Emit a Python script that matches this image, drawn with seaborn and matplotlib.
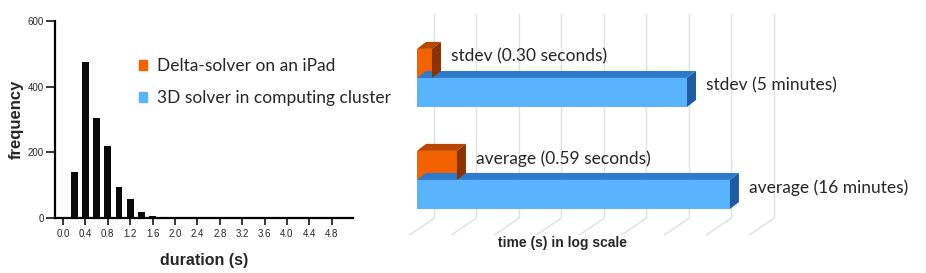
import matplotlib
matplotlib.use("Agg")
import matplotlib.pyplot as plt
from matplotlib.patches import Polygon, Patch
from matplotlib.lines import Line2D
import seaborn as sns
import pandas as pd
import numpy as np

# duration histogram (bin centres in seconds, counts)
bin_centers = [0.0, 0.2, 0.4, 0.6, 0.8, 1.0, 1.2, 1.4, 1.6, 1.8, 2.0, 2.2]
counts = [2, 140, 476, 305, 218, 95, 57, 18, 6, 2, 1, 1]

# timing comparison
stat_names = ["stdev", "average"]
solvers = ["Delta-solver on an iPad", "3D solver in computing cluster"]
ipad_seconds = [0.30, 0.59]
cluster_seconds = [300, 960]
ipad_labels = ["stdev (0.30 seconds)", "average (0.59 seconds)"]
cluster_labels = ["stdev (5 minutes)", "average (16 minutes)"]
grid_values = [0.32, 1, 3.2, 10, 32, 100, 320, 1000, 3200]

orange = {"front": "#F46200", "top": "#B84600", "side": "#8A3300"}
blue = {"front": "#5AB3FD", "top": "#2E7BCB", "side": "#1D5BA3"}

sns.set_style("ticks")
plt.rcParams["font.family"] = ["Liberation Sans", "DejaVu Sans"]
label_font = ["Lato", "DejaVu Sans"]

W, H = 926, 273
fig = plt.figure(figsize=(W / 100, H / 100), dpi=100)


def px_axes(x0, y0, x1, y1):
    return fig.add_axes([x0 / W, 1 - y1 / H, (x1 - x0) / W, (y1 - y0) / H])


# ---------- left: histogram ----------
ax1 = px_axes(55, 21, 353, 218)
sns.histplot(x=bin_centers, weights=counts, binwidth=0.2, binrange=(-0.1, 2.3),
             shrink=0.6, color="#0a0a0a", alpha=1, edgecolor="none", ax=ax1)
ax1.set_xlim(-0.143, 5.18)
ax1.set_ylim(0, 600)
ax1.set_yticks([0, 200, 400, 600])
ax1.set_xticks(np.arange(0, 4.9, 0.4))
ax1.set_xticklabels([f"{t:.1f}" for t in np.arange(0, 4.9, 0.4)])
sns.despine(ax=ax1)
for s in ["left", "bottom"]:
    ax1.spines[s].set_linewidth(1.6)
    ax1.spines[s].set_color("black")
ax1.tick_params(axis="x", length=5, width=1.1, labelsize=7, pad=3, color="black")
ax1.tick_params(axis="y", length=6.5, width=1.1, labelsize=7, pad=1.5, color="black")
ax1.set_xlabel("duration (s)", fontsize=11.5, fontweight="bold", labelpad=10)
ax1.set_ylabel("frequency", fontsize=12, fontweight="bold", labelpad=3)

handles = [Patch(color=orange["front"]), Patch(color=blue["front"])]
fig.legend(handles, solvers, loc="upper left", bbox_to_anchor=(139 / W, 1 - 58 / H),
           frameon=False, handlelength=0.48, handleheight=0.48, handletextpad=0.55,
           labelspacing=0.95, prop={"family": label_font, "size": 12.5},
           borderaxespad=0, borderpad=0)

# ---------- right: pseudo-3D log bar chart ----------
ax2 = px_axes(417, 14, 790, 218)
df = pd.DataFrame({
    "stat": stat_names * 2,
    "solver": [solvers[0]] * 2 + [solvers[1]] * 2,
    "seconds": ipad_seconds + cluster_seconds,
})
ax2.set_xscale("log")
sns.barplot(data=df, y="stat", x="seconds", hue="solver", orient="h",
            palette=[orange["front"], blue["front"]], width=0.57, linewidth=0,
            saturation=1, legend=False, ax=ax2)
ax2.set_xlim(0.2, 4885)
ax2.set_ylim(1.373, -0.627)
ax2.axis("off")

# back-wall gridlines and floor lines
for v in grid_values:
    ax2.axvline(v, color="#dde1e1", lw=1, zorder=0)
    bx, by = ax2.transData.transform((v, 1.373))
    fig.add_artist(Line2D([bx, bx - 25], [by, by - 17], transform=None,
                          color="#dde1e1", lw=1, zorder=0))

dx, dy = 9, 7
x_left = ax2.transAxes.transform((0, 0))[0]
for cont, cols, labels, z in zip(ax2.containers, [orange, blue],
                                 [ipad_labels, cluster_labels], [4, 3]):
    for bar, lab in zip(cont, labels):
        bar.set_zorder(z)
        val = bar.get_width()
        yc = bar.get_y() + bar.get_height() / 2
        _, yb = ax2.transData.transform((val, bar.get_y() + bar.get_height()))
        xr, yt = ax2.transData.transform((val, bar.get_y()))
        top = Polygon([(x_left, yt), (xr, yt), (xr + dx, yt + dy), (x_left + dx, yt + dy)],
                      closed=True, transform=None, color=cols["top"], lw=0, zorder=z)
        side = Polygon([(xr, yb), (xr, yt), (xr + dx, yt + dy), (xr + dx, yb + dy)],
                       closed=True, transform=None, color=cols["side"], lw=0, zorder=z)
        fig.add_artist(top)
        fig.add_artist(side)
        ax2.annotate(lab, xy=(val, yc), xytext=(19, 7), textcoords="offset pixels",
                     ha="left", va="center", fontsize=12.5, family=label_font,
                     annotation_clip=False)

fig.text(562 / W, 1 - 243 / H, "time (s) in log scale", ha="center", va="center",
         fontsize=10, fontweight="bold")

fig.savefig("out.png", dpi=100)
